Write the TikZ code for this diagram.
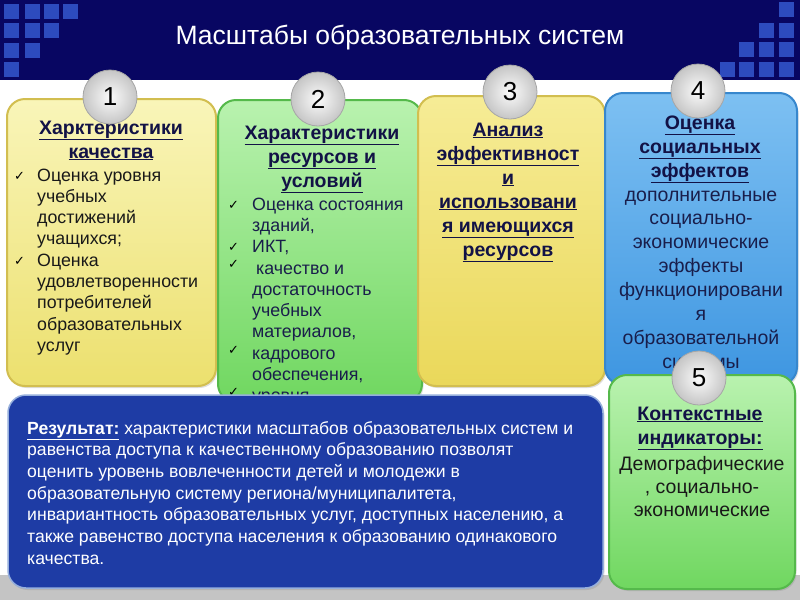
\documentclass[tikz,border=0pt]{standalone}
\usepackage{fontspec}
\setmainfont{Liberation Sans}
\newfontfamily\symfont{DejaVu Sans}
\usetikzlibrary{shadows}
\definecolor{navybg}{RGB}{8,6,98}
\definecolor{sqblue}{RGB}{45,75,190}
\definecolor{headtxt}{RGB}{18,18,70}
\definecolor{bodydark}{RGB}{25,25,25}
\definecolor{bodynavy}{RGB}{25,30,75}
\definecolor{yelA}{RGB}{249,245,185}\definecolor{yelB}{RGB}{236,224,110}\definecolor{yelD}{RGB}{210,190,80}
\definecolor{yel3A}{RGB}{246,236,150}\definecolor{yel3B}{RGB}{234,216,90}
\definecolor{grnA}{RGB}{185,242,175}\definecolor{grnB}{RGB}{112,215,96}\definecolor{grnD}{RGB}{85,185,75}
\definecolor{bluA}{RGB}{125,192,242}\definecolor{bluB}{RGB}{62,150,225}\definecolor{bluD}{RGB}{55,135,205}
\definecolor{boxfill}{RGB}{30,60,165}\definecolor{boxedge}{RGB}{150,175,220}
\definecolor{bandgray}{RGB}{196,196,196}
\tikzset{
  sqr/.style={fill=sqblue,draw=none},
  card/.style={rectangle,rounded corners=18pt,line width=2pt,inner sep=0pt,
    drop shadow={opacity=0.25,shadow xshift=1.5pt,shadow yshift=-2pt}},
  numball/.style={circle,minimum size=54pt,inner sep=0pt,draw=gray!70,line width=0.8pt,
    shading=radial,inner color=gray!3,outer color=gray!45,
    font=\fontsize{26}{26}\selectfont,text=black},
  head/.style={font=\bfseries\fontsize{19.5}{24}\selectfont,text=headtxt,align=center,inner sep=0pt},
  body/.style={font=\fontsize{17.8}{21.3}\selectfont,align=left,inner sep=0pt},
  bodyc/.style={font=\fontsize{19.5}{23.9}\selectfont,align=center,inner sep=0pt},
  chk/.style={font=\symfont\fontsize{13}{13}\selectfont,inner sep=0pt,anchor=base west},
}
\begin{document}
\begin{tikzpicture}[x=1pt,y=-1pt]
\useasboundingbox (0,0) rectangle (800,600);
% background
\fill[white] (0,0) rectangle (800,600);
\fill[navybg] (0,0) rectangle (800,80);
\fill[bandgray] (0,575) rectangle (800,600);
% squares top-left
\foreach \x/\y in {4/4,25/4,44/4,63/4,4/23,25/23,44/23,4/43,25/43,4/62}
  \fill[sqr] (\x,\y) rectangle ++(15,15);
% squares top-right
\foreach \x/\y in {779/2,759/23,779/23,739/42,759/42,779/42,720/62,739/62,759/62,779/62}
  \fill[sqr] (\x,\y) rectangle ++(15,15);
\node[text=white,font=\fontsize{26.5}{26.5}\selectfont,inner sep=0pt] (title) at (400,38) {Масштабы образовательных систем};

% cards
\node[card,minimum width=209pt,minimum height=287pt,draw=yelD,top color=yelA,bottom color=yelB] (card1) at (111.5,242.5) {};
\node[card,minimum width=204pt,minimum height=302pt,draw=grnD,top color=grnA,bottom color=grnB] (card2) at (320,251) {};
\node[card,minimum width=187pt,minimum height=290pt,draw=yelD,top color=yel3A,bottom color=yel3B] (card3) at (511.5,241) {};
\node[card,minimum width=192pt,minimum height=292pt,draw=bluD,top color=bluA,bottom color=bluB] (card4) at (701,239) {};

% card 1 text (anchor base = baseline of last line)
\node[head,anchor=base] (h1) at (111,158) {\underline{Харктеристики}\\\underline{качества}};
\node[chk] (k1a) at (14,180) {✓};
\node[chk] (k1b) at (14,265.2) {✓};
\node[body,text=bodydark,anchor=base west] (b1a) at (37,244.9) {Оценка уровня\\учебных\\достижений\\учащихся;};
\node[body,text=bodydark,anchor=base west] (b1b) at (37,351.4) {Оценка\\удовлетворенности\\потребителей\\образовательных\\услуг};

% card 2 text
\node[head,anchor=base] (h2) at (322,187) {\underline{Характеристики}\\\underline{ресурсов и}\\\underline{условий}};
\node[chk] (k2a) at (228,209) {✓};
\node[chk] (k2b) at (228,251) {✓};
\node[chk] (k2c) at (228,268) {✓};
\node[chk] (k2d) at (228,354) {✓};
\node[chk] (k2e) at (228,396) {✓};
\node[body,text=bodynavy,anchor=base west] (b2a) at (252,231.3) {Оценка состояния\\зданий,};
\node[body,text=bodynavy,anchor=base west] (b2b) at (252,252) {ИКТ,};
\node[body,text=bodynavy,anchor=base west] (b2c) at (252,337.9) {\hspace{4pt}качество и\\достаточность\\учебных\\материалов,};
\node[body,text=bodynavy,anchor=base west] (b2d) at (252,380.3) {кадрового\\обеспечения,};
\node[body,text=bodynavy,anchor=base west] (b2e) at (252,401) {уровня};

% card 3 text
\node[head,anchor=base] (h3) at (508,256) {\underline{Анализ}\\\underline{эффективност}\\\underline{и}\\\underline{использовани}\\\underline{я имеющихся}\\\underline{ресурсов}};

% card 4 text
\node[head,anchor=base] (h4) at (700,177) {\underline{Оценка}\\\underline{социальных}\\\underline{эффектов}};
\node[bodyc,text=bodynavy,anchor=base] (b4) at (701,368.3) {дополнительные\\социально-\\экономические\\эффекты\\функционировани\\я\\образовательной\\системы};

% card 5
\node[card,minimum width=186pt,minimum height=214pt,draw=grnD,top color=grnA,bottom color=grnB] (card5) at (702,482) {};
\node[head,anchor=base] (h5) at (700,444) {\underline{Контекстные}\\\underline{индикаторы:}};
\node[bodyc,text=bodydark,anchor=base,font=\fontsize{19.5}{23}\selectfont] (b5) at (702,516) {Демографические\\, социально-\\экономические};

% result box
\node[card,minimum width=595pt,minimum height=193pt,draw=boxedge,line width=1.5pt,fill=boxfill] (box) at (305.5,491.5) {};
\node[body,text=white,anchor=base west,font=\fontsize{17.6}{21.7}\selectfont] (res) at (27,564.2)
 {\textbf{\underline{Результат:}} характеристики масштабов образовательных систем и\\
  равенства доступа к качественному образованию позволят\\
  оценить уровень вовлеченности детей и молодежи в\\
  образовательную систему региона/муниципалитета,\\
  инвариантность образовательных услуг, доступных населению, а\\
  также равенство доступа населения к образованию одинакового\\
  качества.};

% number balls
\node[numball] (n1) at (110,97) {1};
\node[numball] (n2) at (318,99) {2};
\node[numball] (n3) at (510,92) {3};
\node[numball] (n4) at (698,91) {4};
\node[numball] (n5) at (699,378) {5};
\end{tikzpicture}
\end{document}
